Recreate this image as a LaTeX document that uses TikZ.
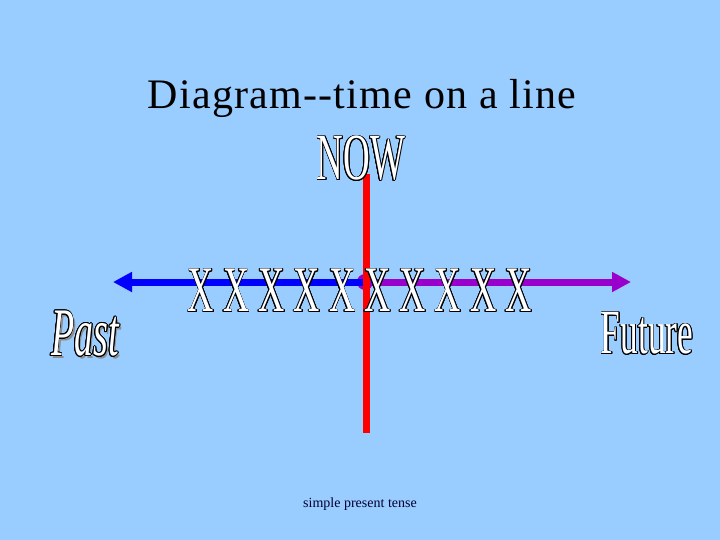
\documentclass[tikz,border=0pt]{standalone}
\usepackage{fontspec}
\setmainfont{Liberation Serif}
\newfontfamily\artfont[FakeStretch=0.56]{Liberation Serif}
\newfontfamily\titlefont[LetterSpace=3]{Liberation Serif}
\usepackage[copies]{contour}
\contourlength{0.8pt}
\usetikzlibrary{arrows.meta}
\definecolor{slidebg}{HTML}{99CCFF}
\definecolor{pastblue}{HTML}{0000FF}
\definecolor{futpurple}{HTML}{9900CC}
\definecolor{nowred}{HTML}{FF0000}
\definecolor{navy}{HTML}{000033}
\newcommand{\wordart}[2]{\contour{black}{\color{white}\artfont\fontsize{#1}{#1}\selectfont #2}}
\newcommand{\artshadow}[2]{\makebox[0pt][l]{\hspace{2.5pt}\raisebox{-2.5pt}{\color{black!45}\artfont\fontsize{#1}{#1}\selectfont #2}}}
\tikzset{
	timeline/.style={line width=7pt, -{Triangle[length=19pt,width=19pt]}},
	art/.style={inner sep=0pt, anchor=center}
}

\begin{document}
\begin{tikzpicture}[x=1pt, y=-1pt]
	\fill [slidebg] (0, 0) rectangle (720, 540);
	\node (title) at (362, 98) {\titlefont\fontsize{42}{42}\selectfont Diagram-{}-time on a line};
	\node (note) at (360, 504) {\color{navy}\fontsize{14}{14}\selectfont simple present tense};
	\coordinate (PE) at (113, 282);
	\coordinate (FE) at (631, 282);
	\coordinate (NT) at (366.5, 174);
	\coordinate (NB) at (366.5, 433);
	\node [circle, fill=futpurple, minimum size=16pt, inner sep=0pt] (now) at (365, 282) {};
	\draw [timeline, pastblue] (now.center) -- (PE);
	\draw [timeline, futpurple] (now.center) -- (FE);
	\draw [nowred, line width=7pt] (NT) -- (NB);
	\node [art] (NOW) at (361, 159) {\wordart{66}{NOW}};
	\foreach \i in {0,...,9}
		\node [art] (x\i) at (201 + 35.3*\i, 291) {\wordart{65}{X}};
	\node [art] (past) at (85, 335) {\artshadow{68}{\itshape Past}\wordart{68}{\itshape Past}};
	\node [art] (future) at (647, 334) {\wordart{63}{Future}};
\end{tikzpicture}
\end{document}
